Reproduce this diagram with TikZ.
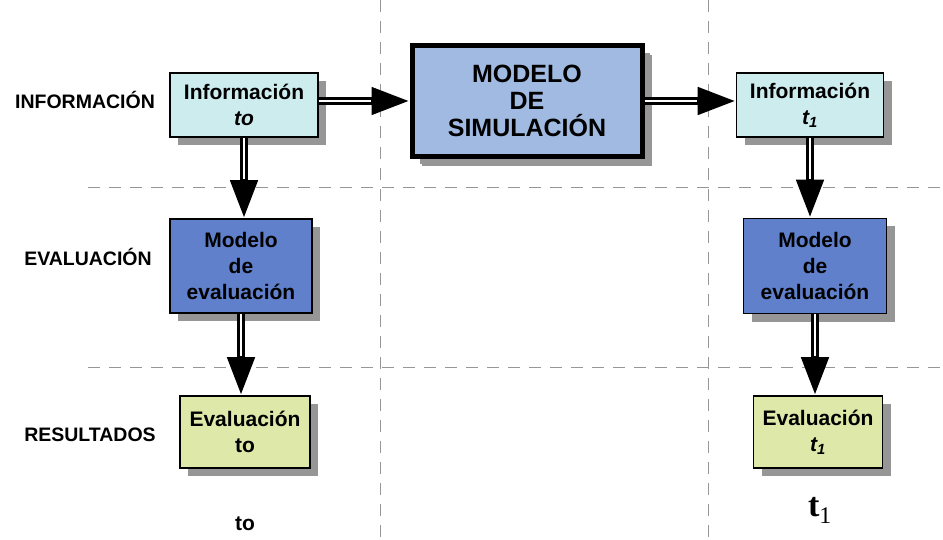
\documentclass[tikz,border=0pt]{standalone}
\usepackage{fontspec}
\setmainfont{Liberation Sans}
\newfontfamily\serifb{Liberation Serif}
\usetikzlibrary{arrows.meta,shadows}
\definecolor{infoc}{RGB}{204,236,238}
\definecolor{simc}{RGB}{160,186,226}
\definecolor{evalc}{RGB}{96,128,204}
\definecolor{resc}{RGB}{222,232,168}
\definecolor{shadc}{RGB}{150,150,150}
\definecolor{dashc}{RGB}{150,150,150}
\tikzset{
  box/.style={draw=black, line width=1.6pt, rectangle, align=center,
    font=\fontsize{21}{26}\selectfont\bfseries, inner sep=0pt,
    drop shadow={shadow xshift=8pt, shadow yshift=-8pt, fill=shadc, opacity=1}},
  rowlabel/.style={font=\fontsize{19.5}{22}\selectfont\bfseries, inner sep=0pt},
  grid/.style={draw=dashc, line width=1pt, dash pattern=on 12pt off 9pt},
  arrout/.style={line width=7.5pt, -{Triangle[length=38pt,width=26pt]}},
  arrin/.style={draw=white, line width=2.2pt, shorten >=39pt},
}
\begin{document}
\begin{tikzpicture}[x=1pt,y=-1pt]
\useasboundingbox (0,0) rectangle (943,540);
% grid lines
\coordinate (v1t) at (380,0); \coordinate (v1b) at (380,540);
\coordinate (v2t) at (708,0); \coordinate (v2b) at (708,540);
\coordinate (h1l) at (88,188); \coordinate (h1r) at (943,188);
\coordinate (h2l) at (88,367); \coordinate (h2r) at (943,367);
\draw[grid] (v1t) -- (v1b);
\draw[grid] (v2t) -- (v2b);
\draw[grid] (h1l) -- (h1r);
\draw[grid] (h2l) -- (h2r);
% row labels
\node[rowlabel] (lInfo) at (85,100) {INFORMACIÓN};
\node[rowlabel] (lEval) at (88,257) {EVALUACIÓN};
\node[rowlabel] (lRes) at (90,435) {RESULTADOS};
% boxes
\node[box, fill=infoc, minimum width=148pt, minimum height=64pt] (infoL) at (244,105) {Información\\\textit{to}};
\node[box, fill=simc, line width=5pt, minimum width=230pt, minimum height=111pt,
  font=\fontsize{25}{27}\selectfont\bfseries,
  drop shadow={shadow xshift=10pt, shadow yshift=-10pt, fill=shadc, opacity=1}] (sim) at (527,101) {MODELO\\DE\\SIMULACIÓN};
\node[box, fill=infoc, minimum width=147pt, minimum height=64pt] (infoR) at (810,105) {Información\\\textit{t\textsubscript{1}}};
\node[box, fill=evalc, minimum width=142pt, minimum height=94pt] (evalL) at (241,266) {Modelo\\de\\evaluación};
\node[box, fill=evalc, minimum width=143pt, minimum height=95pt] (evalR) at (815,266) {Modelo\\de\\evaluación};
\node[box, fill=resc, minimum width=130pt, minimum height=72pt] (resL) at (245,432) {Evaluación\\to};
\node[box, fill=resc, minimum width=129pt, minimum height=72pt] (resR) at (818,432) {Evaluación\\\textit{t\textsubscript{1}}};
% bottom labels
\node[font=\fontsize{21}{24}\selectfont\bfseries, inner sep=0pt] (bL) at (245,524) {to};
\node[font=\serifb\fontsize{34}{36}\selectfont\bfseries, inner sep=0pt] (bR) at (820,510) {t\textsubscript{\mdseries 1}};
% arrows
\draw[arrout] (infoL.east |- sim.west) -- (sim.west);
\draw[arrin] (infoL.east |- sim.west) -- (sim.west);
\draw[arrout] (sim.east) -- (sim.east -| infoR.west);
\draw[arrin] (sim.east) -- (sim.east -| infoR.west);
\draw[arrout] (infoL.south) -- (infoL.south |- evalL.north);
\draw[arrin] (infoL.south) -- (infoL.south |- evalL.north);
\draw[arrout] (evalL.south) -- (evalL.south |- resL.north);
\draw[arrin] (evalL.south) -- (evalL.south |- resL.north);
\draw[arrout] (infoR.south) -- (infoR.south |- evalR.north);
\draw[arrin] (infoR.south) -- (infoR.south |- evalR.north);
\draw[arrout] (evalR.south) -- (evalR.south |- resR.north);
\draw[arrin] (evalR.south) -- (evalR.south |- resR.north);
\end{tikzpicture}
\end{document}
